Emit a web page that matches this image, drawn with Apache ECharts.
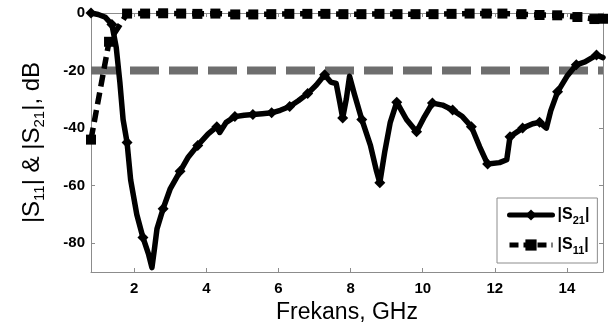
<!DOCTYPE html>
<html><head><meta charset="utf-8">
<script src="https://cdn.jsdelivr.net/npm/echarts@6/dist/echarts.min.js"></script>
<style>html,body{margin:0;padding:0;background:#fff}#c{width:608px;height:325px}</style>
</head><body><div id="c"></div>
<script>
const xTicks = [2, 4, 6, 8, 10, 12, 14];
const yTicks = [-80, -60, -40, -20, 0];

const s21Freq = [0.8,1.0,1.2,1.38,1.5,1.6,1.69,1.8,1.9,2.07,2.24,2.4,2.49,2.56,2.63,2.8,3.0,3.27,3.5,3.76,4.05,4.29,4.37,4.55,4.79,5.05,5.29,5.55,5.81,6.05,6.31,6.55,6.81,7.05,7.28,7.45,7.6,7.7,7.78,7.88,7.97,8.1,8.31,8.55,8.72,8.81,8.95,9.1,9.28,9.55,9.83,10.05,10.27,10.55,10.83,11.1,11.35,11.58,11.8,12.13,12.33,12.42,12.77,13.05,13.24,13.43,13.55,13.74,14.0,14.26,14.5,14.82,15.0];
const s21Val = [0,-0.5,-1.5,-4,-12,-24,-37,-45,-58,-70,-78,-84,-88.5,-82,-75,-68,-61,-55,-50,-46,-42,-39.5,-41.5,-38,-36,-35.5,-35.3,-35,-34.7,-33.8,-32.5,-30.5,-28,-25,-21.5,-24,-24.5,-31,-36.5,-30,-22,-28,-37,-46,-55,-59,-48,-38,-31,-37,-41.3,-36,-31.3,-32,-33.7,-36,-39.5,-46.5,-52.5,-52,-51,-43,-40,-38.5,-38,-40,-34,-27.4,-22,-18,-17,-14.6,-15.5];
const s21Marks = [0.8,1.38,1.8,2.24,2.8,3.27,3.76,4.29,4.79,5.29,5.81,6.31,6.81,7.28,7.78,8.31,8.81,9.28,9.83,10.27,10.83,11.35,11.8,12.42,12.77,13.24,13.74,14.26,14.82];

const s11Freq = [0.8,1.3,1.8,2.3,2.8,3.3,3.75,4.25,4.8,5.3,5.8,6.3,6.8,7.3,7.8,8.3,8.8,9.3,9.8,10.3,10.8,11.3,11.77,12.21,12.74,13.24,13.73,14.29,14.76,15.0];
const s11Val = [-44,-10,-0.2,-0.2,-0.1,-0.2,-0.3,-0.2,-0.5,-0.5,-0.4,-0.3,-0.3,-0.3,-0.4,-0.4,-0.3,-0.4,-0.4,-0.4,-0.3,-0.2,-0.2,-0.2,-0.4,-0.7,-0.8,-1.4,-2.1,-2.0];

const refFreq = [0.8, 15];
const refVal = [-20, -20];

const FONT = 'Liberation Sans, Arial, sans-serif';
const AXC = '#8c8c8c';

const chart = echarts.init(document.getElementById('c'), null, {renderer: 'canvas'});

const s21Data = s21Freq.map((f, i) => ({value: [f, s21Val[i]], symbol: s21Marks.includes(f) ? 'diamond' : 'none'}));
const s11Data = s11Freq.map((f, i) => [f, s11Val[i]]);
const refData = refFreq.map((f, i) => [f, refVal[i]]);

const axisBase = {
  axisLine: {show: true, onZero: false, lineStyle: {color: AXC, width: 1}},
  splitLine: {show: false}
};

chart.setOption({
  animation: false,
  backgroundColor: '#fff',
  grid: {left: 91, right: 5, top: 13, bottom: 53, containLabel: false, outerBoundsMode: 'none'},
  xAxis: [
    Object.assign({}, axisBase, {
      type: 'value', min: 0.8, max: 15, position: 'bottom',
      name: 'Frekans, GHz', nameLocation: 'middle', nameGap: 29,
      nameTextStyle: {fontFamily: FONT, fontSize: 23, color: '#000'},
      axisTick: {show: true, inside: true, length: 4, lineStyle: {color: AXC}, customValues: xTicks},
      axisLabel: {show: true, fontFamily: FONT, fontSize: 15, fontWeight: 'bold', color: '#000', margin: 9, customValues: xTicks}
    }),
    Object.assign({}, axisBase, {
      type: 'value', min: 0.8, max: 15, position: 'top',
      axisTick: {show: true, inside: true, length: 4, lineStyle: {color: AXC}, customValues: xTicks},
      axisLabel: {show: false}
    })
  ],
  yAxis: [
    Object.assign({}, axisBase, {
      type: 'value', min: -90, max: 0, position: 'left',
      name: '|S{sub|11}| & |S{sub|21}|, dB', nameLocation: 'middle', nameGap: 44,
      nameTextStyle: {fontFamily: FONT, fontSize: 24, color: '#000', lineHeight: 30,
        rich: {sub: {fontFamily: FONT, fontSize: 15, color: '#000', verticalAlign: 'bottom', lineHeight: 30, padding: [7, 0, 0, 0]}}},
      axisTick: {show: true, inside: true, length: 4, lineStyle: {color: AXC}, customValues: yTicks},
      axisLabel: {show: true, fontFamily: FONT, fontSize: 15, fontWeight: 'bold', color: '#000', margin: 6, customValues: yTicks}
    }),
    Object.assign({}, axisBase, {
      type: 'value', min: -90, max: 0, position: 'right',
      axisTick: {show: true, inside: true, length: 4, lineStyle: {color: AXC}, customValues: yTicks},
      axisLabel: {show: false}
    })
  ],
  legend: {
    left: 497, top: 198, orient: 'vertical',
    data: [
      {name: 'S21', lineStyle: {width: 5, type: 'solid', color: '#000'}},
      {name: 'S11', lineStyle: {width: 5, type: [9, 5], color: '#000'}}
    ],
    itemWidth: 43, itemHeight: 14, itemGap: 8,
    padding: [6, 8, 7, 10],
    borderColor: '#8c8c8c', borderWidth: 1, backgroundColor: '#fff',
    formatter: n => '|S{sub|' + n.slice(1) + '}|',
    textStyle: {fontFamily: FONT, fontSize: 16, fontWeight: 'bold', color: '#000', lineHeight: 22,
      rich: {sub: {fontFamily: FONT, fontSize: 11, fontWeight: 'bold', color: '#000', verticalAlign: 'bottom', lineHeight: 22, padding: [5, 0, 0, 0]}}}
  },
  series: [
    {
      name: 'ref', type: 'line', data: refData, xAxisIndex: 0, yAxisIndex: 0,
      symbol: 'none', silent: true, z: 1,
      lineStyle: {color: '#6e6e6e', width: 8, type: [29, 10]}
    },
    {
      name: 'S11', type: 'line', data: s11Data, xAxisIndex: 0, yAxisIndex: 0,
      symbol: 'rect', symbolSize: 10, showAllSymbol: true, z: 2,
      itemStyle: {color: '#000'},
      lineStyle: {color: '#000', width: 5.5, type: [12, 6]}
    },
    {
      name: 'S21', type: 'line', data: s21Data, xAxisIndex: 0, yAxisIndex: 0,
      symbol: 'diamond', symbolSize: 11, showAllSymbol: true, z: 3,
      itemStyle: {color: '#000'},
      lineStyle: {color: '#000', width: 5.5, join: 'round', cap: 'round'}
    }
  ]
});
</script>
</body></html>
